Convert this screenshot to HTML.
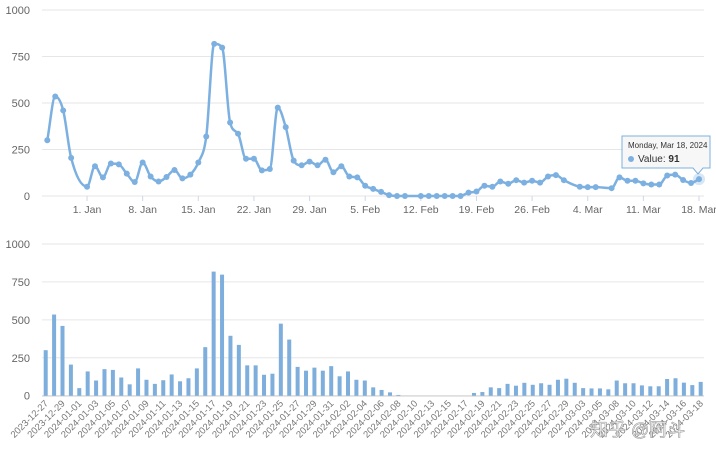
<!DOCTYPE html>
<html><head><meta charset="utf-8"><style>
body{margin:0;background:#fff;width:716px;height:456px;overflow:hidden;font-family:"Liberation Sans","Noto Sans CJK SC",sans-serif}
svg text{font-family:"Liberation Sans","Noto Sans CJK SC",sans-serif}
</style></head><body>
<svg id="c" width="716" height="456"></svg>
<script>
const dates=["2023-12-27","2023-12-28","2023-12-29","2023-12-30","2024-01-01","2024-01-02","2024-01-03","2024-01-04","2024-01-05","2024-01-06","2024-01-07","2024-01-08","2024-01-09","2024-01-10","2024-01-11","2024-01-12","2024-01-13","2024-01-14","2024-01-15","2024-01-16","2024-01-17","2024-01-18","2024-01-19","2024-01-20","2024-01-21","2024-01-22","2024-01-23","2024-01-24","2024-01-25","2024-01-26","2024-01-27","2024-01-28","2024-01-29","2024-01-30","2024-01-31","2024-02-01","2024-02-02","2024-02-03","2024-02-04","2024-02-05","2024-02-06","2024-02-07","2024-02-08","2024-02-09","2024-02-10","2024-02-12","2024-02-13","2024-02-14","2024-02-15","2024-02-16","2024-02-17","2024-02-18","2024-02-19","2024-02-20","2024-02-21","2024-02-22","2024-02-23","2024-02-24","2024-02-25","2024-02-26","2024-02-27","2024-02-28","2024-02-29","2024-03-01","2024-03-03","2024-03-04","2024-03-05","2024-03-07","2024-03-08","2024-03-09","2024-03-10","2024-03-11","2024-03-12","2024-03-13","2024-03-14","2024-03-15","2024-03-16","2024-03-17","2024-03-18"];
const values=[300,535,460,205,50,160,100,175,170,120,75,180,105,78,102,140,95,115,180,320,818,798,395,335,200,200,138,145,475,370,190,165,185,165,195,128,160,105,100,55,38,22,5,0,0,0,0,0,0,0,0,18,24,55,50,78,66,85,72,82,72,105,112,85,50,48,48,42,100,82,82,68,62,62,110,115,86,70,91];
const yTicks=[0,250,500,750,1000];
const topXTicks=["2024-01-01","2024-01-08","2024-01-15","2024-01-22","2024-01-29","2024-02-05","2024-02-12","2024-02-19","2024-02-26","2024-03-04","2024-03-11","2024-03-18"];
const topXLabels=["1. Jan","8. Jan","15. Jan","22. Jan","29. Jan","5. Feb","12. Feb","19. Feb","26. Feb","4. Mar","11. Mar","18. Mar"];

const svg=document.getElementById('c');const NS='http://www.w3.org/2000/svg';
function mk(t,a,p){const e=document.createElementNS(NS,t);for(const k in a)e.setAttribute(k,a[k]);(p||svg).appendChild(e);return e;}
const day=d=>Date.parse(d+"T00:00:00Z")/864e5;
const d0=day(dates[0]), d1=day(dates[dates.length-1]);
const tx=d=>47.3+(day(d)-d0)*(699-47.3)/(d1-d0);
const ty=v=>196-v*0.186;
const bx=i=>45.7+i*(700.7-45.7)/(dates.length-1);
const by=v=>395.7-v*0.1517;

// top chart
const topG=mk('g',{});


yTicks.forEach(v=>{
  const l=mk('line',{x1:42,x2:704,y1:ty(v),y2:ty(v),stroke:'#e6e6e6','stroke-width':1},topG);
  
  
  const t=mk('text',{x:30,y:ty(v)+4,'text-anchor':'end','font-size':11,fill:'#666'},topG);t.textContent=v;
  
  
});
topXTicks.forEach((d,i)=>{
  const x=tx(d);
  mk('line',{x1:x,x2:x,y1:196,y2:201,stroke:'#ccd6eb'},topG);
  const t=mk('text',{x:x,y:213,'text-anchor':'middle','font-size':10.5,fill:'#666'},topG);t.textContent=topXLabels[i];
  
  
});
const pts=dates.map((d,i)=>[tx(d),ty(values[i])]);
// monotone cubic
const n=pts.length,dx=[],sl=[],m=[];
for(let i=0;i<n-1;i++){dx[i]=pts[i+1][0]-pts[i][0];sl[i]=(pts[i+1][1]-pts[i][1])/dx[i];}
m[0]=sl[0];m[n-1]=sl[n-2];
for(let i=1;i<n-1;i++){m[i]=(sl[i-1]*sl[i]<=0)?0:(sl[i-1]+sl[i])/2;}
for(let i=0;i<n-1;i++){
  if(sl[i]===0){m[i]=0;m[i+1]=0;continue;}
  const a=m[i]/sl[i],b=m[i+1]/sl[i],h=a*a+b*b;
  if(h>9){const t=3/Math.sqrt(h);m[i]=t*a*sl[i];m[i+1]=t*b*sl[i];}
}
let path='M'+pts[0][0]+','+pts[0][1];
for(let i=0;i<n-1;i++){
  const h=dx[i]/3;
  path+=` C${pts[i][0]+h},${pts[i][1]+m[i]*h} ${pts[i+1][0]-h},${pts[i+1][1]-m[i+1]*h} ${pts[i+1][0]},${pts[i+1][1]}`;
}
const ln=mk('path',{d:path,fill:'none',stroke:'#7cb0e0','stroke-width':2.5},topG);


pts.forEach(p=>{
  const c=mk('circle',{cx:p[0],cy:p[1],r:3,fill:'#7cb0e0'},topG);
  
  
});
// tooltip
const last=pts[pts.length-1];
mk('circle',{cx:last[0],cy:last[1],r:6,fill:'#7cb0e0','fill-opacity':0.3},topG);
const tt=mk('g',{},topG);


mk('path',{d:`M622,136 H710 V168 H703 L698,174 L693,168 H622 Z`,fill:'#f7f7f7','fill-opacity':0.95,stroke:'#7cb0e0'},tt);
const t1=mk('text',{x:628,y:148,'font-size':8,fill:'#333'},tt);t1.textContent='Monday, Mar 18, 2024';
mk('circle',{cx:631,cy:159,r:3,fill:'#7cb0e0'},tt);
const t2=mk('text',{x:638,y:162,'font-size':10,fill:'#333'},tt);
t2.appendChild(document.createTextNode('Value: '));
const tb=mk('tspan',{'font-weight':'bold'},t2);tb.textContent=values[values.length-1];

// bottom chart
const botG=mk('g',{});


yTicks.forEach(v=>{
  const l=mk('line',{x1:42,x2:704,y1:by(v),y2:by(v),stroke:'#e6e6e6'},botG);
  
  
  const t=mk('text',{x:30,y:by(v)+4,'text-anchor':'end','font-size':11,fill:'#666'},botG);t.textContent=v;
  
  
});
mk('line',{x1:42,x2:704,y1:396,y2:396,stroke:'#ccc'},botG);
values.forEach((v,i)=>{
  const h=v*0.1517;
  const r=mk('rect',{x:bx(i)-2,y:395.7-h,width:4,height:h,fill:'#7eaedb'},botG);
  
  
});
dates.forEach((d,i)=>{
  if(i%2)return;
  const x=bx(i);
  const t=mk('text',{x:x+3,y:404,'text-anchor':'end','font-size':9.5,fill:'#777',transform:`rotate(-45 ${x+3} 404)`},botG);
  t.textContent=d;
  
  
});
const wm=mk('text',{x:590,y:436,'font-size':18,fill:'#fff',stroke:'#999','stroke-width':0.6,'fill-opacity':0.7});
wm.textContent='知乎 @阿斗';


</script>
</body></html>
